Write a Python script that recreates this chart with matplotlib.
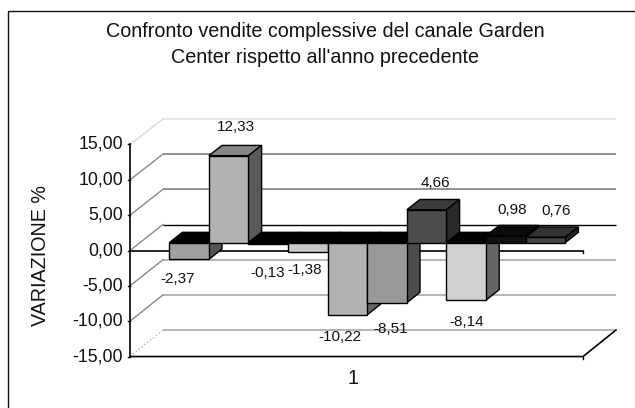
import matplotlib
matplotlib.use("Agg")
import matplotlib.pyplot as plt
from matplotlib.patches import Polygon

plt.rcParams['font.family'] = ['Liberation Sans', 'DejaVu Sans']

title = "Confronto vendite complessive del canale Garden\nCenter rispetto all'anno precedente"
values = [-2.37, 12.33, -0.13, -1.38, -10.22, -8.51, 4.66, -8.14, 0.98, 0.76]
labels = ["-2,37", "12,33", "-0,13", "-1,38", "-10,22", "-8,51", "4,66", "-8,14", "0,98", "0,76"]
front_cols = ['#a0a0a0', '#b2b2b2', '#ffffff', '#c8c8c8', '#b2b2b2', '#999999', '#4d4d4d', '#d0d0d0', '#111111', '#444444']
top_cols = ['#000000', '#868686', '#000000', '#000000', '#000000', '#000000', '#3c3c3c', '#000000', '#0a0a0a', '#333333']
side_cols = ['#555555', '#5a5a5a', '#333333', '#444444', '#666666', '#4d4d4d', '#2a2a2a', '#666666', '#080808', '#222222']
yticks = [15, 10, 5, 0, -5, -10, -15]
ytick_labels = ["15,00", "10,00", "5,00", "0,00", "-5,00", "-10,00", "-15,00"]
grid_cols = ['#e6e6e6', '#888888', '#888888', '#000000', '#b0b0b0', '#b0b0b0', '#b0b0b0']
wall_cols = ['#d8d8d8', '#888888', '#888888', '#888888', '#888888', '#888888', '#b8b8b8']

W, H = 635, 408
PX_BAR = 39.6     # pixels per bar
PX_VAL = 7.07     # pixels per unit
X0 = 159.3        # pixel of bar 0 left edge on front plane
Y0 = 250.5        # pixel of zero on front plane
DX, DY = 33.0, 26.0   # depth of the box
D1, D2 = 0.30, 0.70   # depth range of the bars

fig = plt.figure(figsize=(W / 100, H / 100), dpi=100)
ax = fig.add_axes([0, 0, 1, 1])
ax.set_xlim((0 - X0) / PX_BAR, (W - X0) / PX_BAR)
ax.set_ylim((Y0 - H) / PX_VAL, Y0 / PX_VAL)
ax.axis('off')

def proj(x, v, d):
    # bar index / value / depth -> screen position in data units
    return (x + d * DX / PX_BAR, v * (1 - 0.005 * d) + d * DY / PX_VAL)

x_left = (130 - X0) / PX_BAR
x_right = (583 - X0) / PX_BAR

# only the left and top sides of the frame are in the picture
ax.plot([7.5 / W, 7.5 / W, 1], [0, 1 - 11 / H, 1 - 11 / H], transform=ax.transAxes,
        color='#111111', lw=1.0, zorder=0, solid_joinstyle='miter')

# back wall and left wall lines
for v, gc, wc in zip(yticks, grid_cols, wall_cols):
    a = proj(x_left, v, 1)
    b = proj(x_right, v, 1)
    c = proj(x_left, v, 0)
    lw = 1.0 if v == 0 else 1.3
    ax.plot([a[0], b[0]], [a[1], b[1]], color=gc, lw=lw, zorder=1, solid_capstyle='butt')
    ax.plot([c[0], a[0]], [c[1], a[1]], color=wc, lw=1.0, zorder=1,
            ls=':' if v == -15 else '-')

# floor front and right edges
f1 = proj(x_left, -15, 0)
f2 = proj(x_right, -15, 0)
f3 = proj(x_right, -15, 1)
ax.plot([f1[0], f2[0], f3[0]], [f1[1], f2[1], f3[1]], color='black', lw=1.2, zorder=2)
ax.plot([f2[0], f2[0]], [f2[1], f2[1] - 0.4], color='black', lw=1.0, zorder=2)

# front zero line and left axis
z1 = proj(x_left, 0, 0)
z2 = proj(x_right, 0, 0)
ax.plot([z1[0], z2[0]], [z1[1], z2[1]], color='black', lw=1.2, zorder=2)
ax.plot([z2[0], z2[0]], [z2[1], z2[1] - 0.4], color='black', lw=1.0, zorder=2)
t1 = proj(x_left, 15, 0)
ax.plot([t1[0], f1[0]], [t1[1], f1[1]], color='black', lw=1.2, zorder=3)
for v, s in zip(yticks, ytick_labels):
    p = proj(x_left, v, 0)
    ax.plot([p[0] - 0.04, p[0]], [p[1], p[1]], color='black', lw=1.0, zorder=3)
    ax.text(p[0] - 0.175, p[1], s, ha='right', va='center', fontsize=12.8, color='#111111')

# bars, left to right
for i, v in enumerate(values):
    lo = proj(i, 0, D1)
    hi = proj(i, v, D1)
    lo2 = proj(i + 1, 0, D1)
    hi2 = proj(i + 1, v, D1)
    blo = proj(i + 1, 0, D2)
    bhi = proj(i + 1, v, D2)
    tl = proj(i, max(v, 0), D2)
    tr = proj(i + 1, max(v, 0), D2)
    fl = proj(i, max(v, 0), D1)
    fr = proj(i + 1, max(v, 0), D1)
    z = 5 + i * 0.1
    ax.add_patch(Polygon([fl, fr, tr, tl], fc=top_cols[i], ec='black', lw=1.0, zorder=z))
    ax.add_patch(Polygon([lo2, hi2, bhi, blo], fc=side_cols[i], ec='black', lw=1.0, zorder=z))
    ax.add_patch(Polygon([lo, lo2, hi2, hi], fc=front_cols[i], ec='black', lw=1.0, zorder=z + 0.01))

# data labels, offsets in pixels from the bar front centre at its value
label_dx = [-11, 7, -1, -3, -7, 4, 9, 0, 6, 11]
label_dy = [-20, 29, -29, -18, -22, -26, 27, -22, 26, 26]
for i, (v, s) in enumerate(zip(values, labels)):
    p = proj(i + 0.5, v, D1)
    ax.annotate(s, p, xytext=(label_dx[i], label_dy[i]), textcoords='offset pixels',
                ha='center', va='center', fontsize=11, color='#111111', zorder=20)

ax.text(325 / W, 1 - 44.5 / H, title, transform=ax.transAxes, ha='center', va='center',
        fontsize=14.2, color='#111111', linespacing=1.42)
ax.text(40 / W, 1 - 255 / H, "VARIAZIONE %", transform=ax.transAxes, rotation=90,
        ha='center', va='center', fontsize=14.2, color='#111111')
ax.text(353 / W, 1 - 379 / H, "1", transform=ax.transAxes, ha='center', va='center',
        fontsize=14.2, color='#111111')

fig.savefig("out.png", dpi=100)
